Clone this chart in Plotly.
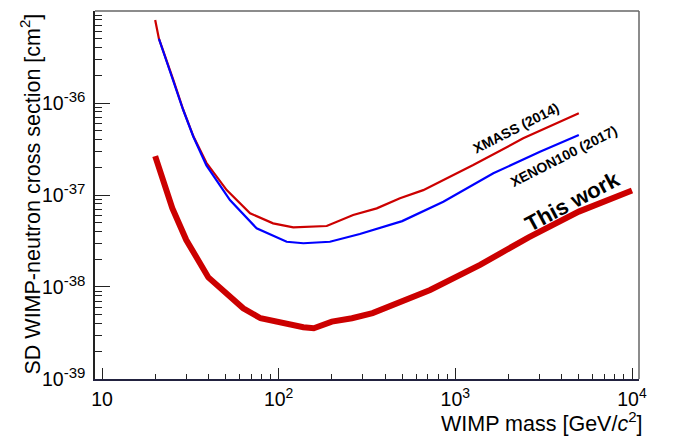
import numpy as np
import plotly.graph_objects as go

# ---- data ----
this_mass = [20, 25, 30, 40, 63, 79, 138, 158, 200, 260, 340, 490, 720, 1380, 2600, 5000, 10000]
this_xs = [2.65e-37, 7.2e-38, 3.24e-38, 1.27e-38, 5.86e-39, 4.57e-39, 3.65e-39, 3.56e-39,
           4.2e-39, 4.57e-39, 5.2e-39, 6.9e-39, 9.27e-39, 1.74e-38, 3.46e-38, 6.6e-38, 1.12e-37]

xmass_mass = [20, 21, 25.3, 28.8, 32.9, 39, 50.8, 68.9, 93, 121, 187, 264, 359, 486, 658, 1262, 2422, 5000]
xmass_xs = [8.0e-36, 5.0e-36, 1.80e-36, 8.5e-37, 4.35e-37, 2.24e-37, 1.13e-37, 6.33e-38, 4.92e-38,
            4.45e-38, 4.6e-38, 6.06e-38, 7.16e-38, 9.2e-38, 1.13e-37, 2.12e-37, 4.13e-37, 7.73e-37]

xenon_mass = [21, 25.3, 28.8, 32.9, 39, 53, 75, 111, 138, 195, 288, 500, 855, 1641, 3013, 5000]
xenon_xs = [5.0e-36, 1.78e-36, 8.4e-37, 4.3e-37, 2.1e-37, 8.8e-38, 4.35e-38, 3.1e-38, 2.99e-38,
            3.1e-38, 3.77e-38, 5.2e-38, 8.45e-38, 1.72e-37, 2.96e-37, 4.49e-37]

x_tickvals = [10, 100, 1000, 10000]
x_ticktext = ["10", "10<sup><span style='font-size:14px'>2</span></sup>",
              "10<sup><span style='font-size:14px'>3</span></sup>",
              "10<sup><span style='font-size:14px'>4</span></sup>"]
y_tickvals = [1e-39, 1e-38, 1e-37, 1e-36, 1e-35]
y_ticktext = ["10<sup><span style='font-size:15px'>-39</span></sup>",
              "10<sup><span style='font-size:15px'>-38</span></sup>",
              "10<sup><span style='font-size:15px'>-37</span></sup>",
              "10<sup><span style='font-size:15px'>-36</span></sup>",
              "10<sup><span style='font-size:15px'>-35</span></sup>"]

FONT = "Liberation Sans, Arial, sans-serif"
RED = "#cc0000"
BLUE = "#0000ff"

x_minor = [m * 10 ** k for k in range(0, 4) for m in range(2, 10)]
y_minor = [m * 10.0 ** k for k in range(-40, -35) for m in range(2, 10)]

fig = go.Figure()
fig.add_trace(go.Scatter(x=this_mass, y=this_xs, mode="lines",
                         line=dict(color=RED, width=6), showlegend=False))
fig.add_trace(go.Scatter(x=xmass_mass, y=xmass_xs, mode="lines",
                         line=dict(color=RED, width=2.2), showlegend=False))
fig.add_trace(go.Scatter(x=xenon_mass, y=xenon_xs, mode="lines",
                         line=dict(color=BLUE, width=2.2), showlegend=False))

# page body has an 8px default margin -> compensate
fig.update_layout(
    width=667, height=429,
    margin=dict(l=87, r=36, t=3, b=58),
    paper_bgcolor="white", plot_bgcolor="white",
    font=dict(family=FONT, color="black"),
    showlegend=False,
)

fig.update_xaxes(
    type="log", range=[0.9604, 4.0396],
    tickvals=x_tickvals, ticktext=x_ticktext,
    tickfont=dict(size=19.5, family=FONT),
    ticks="inside", ticklen=11, tickwidth=1, tickcolor="#222",
    ticklabelstandoff=2,
    minor=dict(tickvals=x_minor, ticks="inside", ticklen=5, tickcolor="#222", showgrid=False),
    showgrid=False, zeroline=False,
    showline=True, linecolor="#22223f", linewidth=1.5, mirror=False,
)
fig.update_yaxes(
    type="log", range=[-39.0005, -34.9995],
    tickvals=y_tickvals, ticktext=y_ticktext,
    tickfont=dict(size=19.5, family=FONT),
    ticks="inside", ticklen=15, tickwidth=1, tickcolor="#222",
    ticklabelstandoff=4,
    minor=dict(tickvals=y_minor, ticks="inside", ticklen=7, tickcolor="#222", showgrid=False),
    showgrid=False, zeroline=False,
    showline=True, linecolor="#222", linewidth=1.5, mirror=False,
)

# top and right frame lines
fig.add_shape(type="line", xref="paper", yref="paper", x0=0, x1=1, y0=1, y1=1,
              line=dict(color="#666", width=1.5))
fig.add_shape(type="line", xref="paper", yref="paper", x0=1, x1=1, y0=0, y1=1,
              line=dict(color="#666", width=1.5))

# axis titles
fig.add_annotation(text="WIMP mass [GeV/<i>c</i><sup>2</sup>]", xref="paper", yref="paper",
                   x=1.011, y=-0.117, xanchor="right", yanchor="middle", showarrow=False,
                   font=dict(size=21.5, family=FONT))
fig.add_annotation(text="SD WIMP-neutron cross section [cm<sup>2</sup>]", xref="paper", yref="paper",
                   x=-0.1195, y=1.0, xanchor="center", yanchor="top", textangle=-90,
                   showarrow=False, font=dict(size=21.5, family=FONT))

# curve labels
fig.add_annotation(text="<b>XMASS (2014)</b>", xref="x", yref="y", x=3.343, y=-36.272,
                   textangle=-27, showarrow=False, font=dict(size=14, family=FONT))
fig.add_annotation(text="<b>XENON100 (2017)</b>", xref="x", yref="y", x=3.615, y=-36.576,
                   textangle=-27, showarrow=False, font=dict(size=14, family=FONT))
fig.add_annotation(text="<b>This work</b>", xref="x", yref="y", x=3.663, y=-37.076,
                   textangle=-28, showarrow=False, font=dict(size=22, family=FONT))

fig.write_html("out.html")
